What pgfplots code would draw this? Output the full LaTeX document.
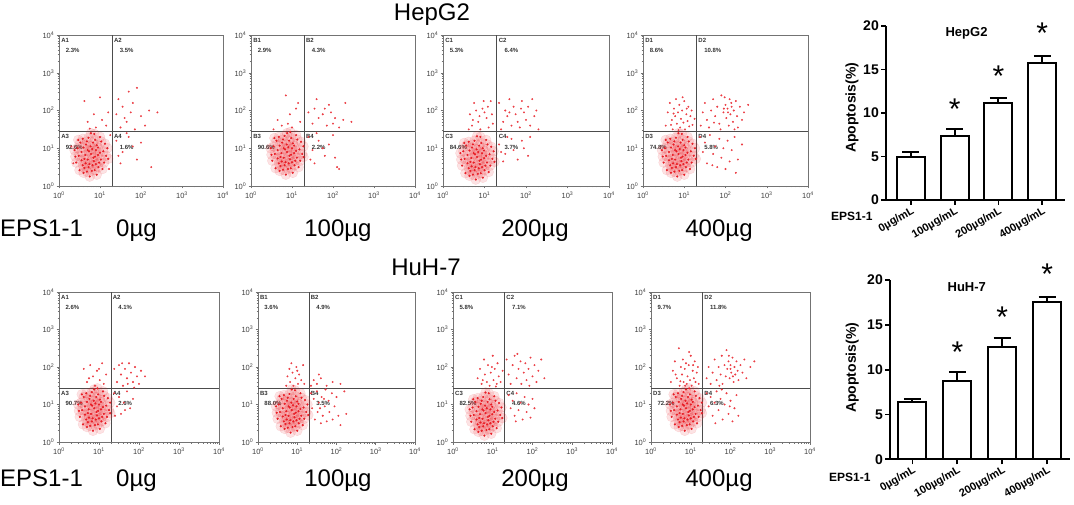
\documentclass[border=0pt]{standalone}
\usepackage{fontspec}
\setmainfont{Liberation Sans}
\usepackage{pgfplots}
\usepackage{pgfplotstable}
\pgfplotsset{compat=1.18}
\definecolor{dotred}{RGB}{232,28,36}

% ---------- flow cytometry data (log10 units: x = Annexin V, y = PI) ----------
\pgfplotstableread[row sep=\\]{x y\\
0.78 0.85\\0.70 0.95\\0.88 0.78\\0.62 0.72\\0.95 1.02\\0.55 0.90\\0.83 1.15\\0.74 0.58\\1.02 0.70\\0.66 1.10\\
0.90 0.95\\0.58 0.55\\1.08 0.92\\0.48 0.80\\0.80 0.40\\0.72 1.28\\0.96 0.50\\0.60 1.02\\1.12 1.12\\0.85 0.66\\
0.52 1.15\\0.68 0.38\\1.00 1.30\\0.42 0.62\\0.92 0.30\\0.77 1.05\\0.64 0.82\\1.15 0.80\\0.86 1.38\\0.50 0.42\\
0.98 0.62\\0.70 0.70\\0.81 0.98\\0.58 1.25\\1.06 0.45\\0.45 1.00\\0.75 0.25\\1.18 1.00\\0.88 1.22\\0.62 0.48\\
0.95 0.82\\0.40 0.78\\1.10 0.62\\0.68 1.18\\0.82 0.55\\0.55 0.68\\1.03 1.18\\0.73 0.92\\0.87 0.42\\0.47 1.22\\
0.92 1.08\\0.65 0.60\\1.20 0.72\\0.78 1.40\\0.60 0.35\\0.84 0.75\\0.38 0.95\\1.00 0.88\\0.72 0.50\\0.90 0.58\\
}\coreA
\pgfplotstableread[row sep=\\]{x y\\
0.88 0.90\\0.80 1.00\\0.98 0.83\\0.72 0.77\\1.05 1.07\\0.65 0.95\\0.93 1.20\\0.84 0.63\\1.12 0.75\\0.76 1.15\\
1.00 1.00\\0.68 0.60\\1.18 0.97\\0.58 0.85\\0.90 0.45\\0.82 1.33\\1.06 0.55\\0.70 1.07\\1.22 1.17\\0.95 0.71\\
0.62 1.20\\0.78 0.43\\1.10 1.35\\0.52 0.67\\1.02 0.35\\0.87 1.10\\0.74 0.87\\1.25 0.85\\0.96 1.43\\0.60 0.47\\
1.08 0.67\\0.80 0.75\\0.91 1.03\\0.68 1.30\\1.16 0.50\\0.55 1.05\\0.85 0.30\\1.28 1.05\\0.98 1.27\\0.72 0.53\\
1.05 0.87\\0.50 0.83\\1.20 0.67\\0.78 1.23\\0.92 0.60\\0.65 0.73\\1.13 1.23\\0.83 0.97\\0.97 0.47\\0.57 1.27\\
1.02 1.13\\0.75 0.65\\1.28 0.77\\0.88 1.40\\0.70 0.40\\0.94 0.80\\0.48 1.00\\1.10 0.93\\0.82 0.55\\1.00 0.63\\
}\coreB
\pgfplotstableread[row sep=\\]{x y\\
0.82 0.77\\0.74 0.87\\0.92 0.70\\0.66 0.64\\0.99 0.94\\0.59 0.82\\0.87 1.07\\0.78 0.50\\1.06 0.62\\0.70 1.02\\
0.94 0.87\\0.62 0.47\\1.12 0.84\\0.52 0.72\\0.84 0.32\\0.76 1.20\\1.00 0.42\\0.64 0.94\\1.16 1.04\\0.89 0.58\\
0.56 1.07\\0.72 0.30\\1.04 1.22\\0.46 0.54\\0.96 0.22\\0.81 0.97\\0.68 0.74\\1.19 0.72\\0.90 1.30\\0.54 0.34\\
1.02 0.54\\0.74 0.62\\0.85 0.90\\0.62 1.17\\1.10 0.37\\0.49 0.92\\0.79 0.17\\1.22 0.92\\0.92 1.14\\0.66 0.40\\
0.99 0.74\\0.44 0.70\\1.14 0.54\\0.72 1.10\\0.86 0.47\\0.59 0.60\\1.07 1.10\\0.77 0.84\\0.91 0.34\\0.51 1.14\\
0.96 1.00\\0.69 0.52\\1.24 0.64\\0.82 1.32\\0.64 0.27\\0.88 0.67\\0.42 0.87\\1.04 0.80\\0.76 0.42\\0.94 0.50\\
}\coreC
\pgfplotstableread[row sep=\\]{x y\\
0.86 0.85\\0.78 0.95\\0.96 0.78\\0.70 0.72\\1.03 1.02\\0.63 0.90\\0.91 1.15\\0.82 0.58\\1.10 0.70\\0.74 1.10\\
0.98 0.95\\0.66 0.55\\1.16 0.92\\0.56 0.80\\0.88 0.40\\0.80 1.28\\1.04 0.50\\0.68 1.02\\1.20 1.12\\0.93 0.66\\
0.60 1.15\\0.76 0.38\\1.08 1.30\\0.50 0.62\\1.00 0.30\\0.85 1.05\\0.72 0.82\\1.23 0.80\\0.94 1.38\\0.58 0.42\\
1.06 0.62\\0.78 0.70\\0.89 0.98\\0.66 1.25\\1.14 0.45\\0.53 1.00\\0.83 0.25\\1.26 1.00\\0.96 1.22\\0.70 0.48\\
1.03 0.82\\0.48 0.78\\1.18 0.62\\0.76 1.18\\0.90 0.55\\0.63 0.68\\1.11 1.18\\0.81 0.92\\0.95 0.42\\0.55 1.22\\
1.00 1.08\\0.73 0.60\\1.28 0.72\\0.86 1.40\\0.68 0.35\\0.92 0.75\\0.46 0.95\\1.08 0.88\\0.80 0.50\\0.98 0.58\\
}\coreD

\pgfplotstableread[row sep=\\]{x y\\
0.62 2.25\\1.00 2.35\\0.85 1.90\\0.70 1.70\\1.05 1.75\\1.15 1.60\\0.90 1.55\\0.75 1.52\\1.20 1.95\\
1.40 1.90\\1.55 2.10\\1.70 2.50\\1.90 2.60\\1.80 2.20\\2.00 1.85\\1.65 1.70\\1.50 1.55\\2.20 2.00\\1.75 1.95\\
2.10 1.60\\1.45 2.30\\1.85 1.50\\2.40 1.95\\1.60 1.80\\
1.40 1.20\\1.55 0.90\\1.70 1.30\\1.90 0.70\\1.50 0.60\\2.25 0.50\\1.80 1.05\\1.45 0.80\\1.65 1.40\\2.00 1.15\\
0.35 0.60\\0.30 1.05\\1.25 1.35\\1.22 0.45\\
}\sTa
\pgfplotstableread[row sep=\\]{x y\\
0.85 2.40\\0.65 1.75\\0.95 1.90\\1.10 2.05\\0.75 1.60\\1.20 1.70\\1.00 1.55\\0.55 1.50\\0.90 1.65\\1.15 2.20\\
1.40 1.95\\1.60 2.30\\1.75 1.90\\1.90 2.15\\2.05 1.80\\2.30 2.20\\2.45 1.70\\1.50 1.65\\1.65 1.80\\1.85 1.60\\
2.15 1.55\\1.95 1.95\\2.25 1.75\\1.55 2.05\\1.80 2.05\\2.00 1.65\\
1.40 1.30\\1.50 0.95\\1.65 1.20\\1.80 0.80\\2.00 1.35\\2.10 0.50\\1.55 0.60\\1.75 1.00\\1.45 0.70\\1.90 1.10\\
2.05 0.75\\1.60 1.40\\2.15 0.45\\
}\sTb
\pgfplotstableread[row sep=\\]{x y\\
0.65 1.90\\0.75 2.20\\0.85 1.70\\0.95 2.05\\1.05 1.80\\1.15 2.25\\0.70 1.60\\0.90 1.50\\1.00 1.95\\1.20 1.65\\
0.80 2.00\\1.10 1.55\\0.72 1.75\\0.98 2.25\\1.18 1.90\\0.62 1.50\\0.88 1.85\\1.08 2.10\\
1.35 2.20\\1.50 2.00\\1.60 2.30\\1.75 1.90\\1.90 2.25\\2.05 2.10\\2.20 1.85\\1.45 1.70\\1.65 1.60\\1.85 1.55\\
2.00 1.75\\2.25 2.00\\1.55 1.85\\1.70 2.10\\1.95 1.95\\2.10 1.60\\1.40 1.50\\1.80 1.70\\2.15 2.30\\1.60 1.95\\
1.88 2.05\\2.30 1.50\\
1.35 1.10\\1.50 0.85\\1.65 1.25\\1.80 0.70\\1.95 1.00\\2.10 1.30\\1.45 0.65\\1.70 0.95\\1.90 1.20\\2.05 0.80\\
1.55 1.30\\1.40 0.90\\
}\sTc
\pgfplotstableread[row sep=\\]{x y\\
0.55 1.60\\0.60 1.95\\0.65 2.20\\0.70 1.75\\0.72 1.50\\0.75 2.05\\0.78 1.85\\0.80 2.30\\0.82 1.65\\0.85 1.95\\
0.88 2.15\\0.90 1.55\\0.92 1.78\\0.95 2.00\\0.98 1.68\\1.00 2.25\\1.02 1.50\\1.05 1.90\\1.08 1.72\\1.10 2.10\\
1.12 1.58\\1.15 1.85\\1.18 2.00\\1.20 1.62\\1.25 1.78\\0.68 1.62\\0.86 1.48\\0.96 2.35\\1.06 2.05\\0.74 1.92\\
1.40 1.60\\1.45 1.95\\1.50 2.20\\1.55 1.75\\1.60 1.55\\1.65 2.00\\1.70 2.30\\1.75 1.85\\1.80 2.10\\1.85 1.65\\
1.90 2.40\\1.95 1.95\\2.00 2.15\\2.02 1.80\\2.05 2.05\\2.08 1.60\\2.10 2.30\\2.12 1.90\\2.15 2.10\\2.18 1.70\\
2.20 2.00\\2.25 2.25\\2.28 1.85\\2.30 1.55\\2.35 2.10\\2.40 1.75\\2.45 1.95\\2.55 2.15\\1.98 2.35\\1.88 1.50\\
2.06 1.95\\1.96 2.05\\2.14 2.20\\1.72 1.68\\2.22 1.50\\
1.38 1.30\\1.45 0.90\\1.50 1.15\\1.55 0.60\\1.62 1.35\\1.70 0.85\\1.75 1.05\\1.80 0.50\\1.85 1.25\\1.90 0.75\\
1.95 1.00\\2.00 0.45\\2.05 1.20\\2.10 0.65\\2.15 0.95\\2.22 1.30\\2.30 0.70\\2.40 1.10\\1.68 0.55\\2.25 0.35\\
}\sTd
\pgfplotstableread[row sep=\\]{x y\\
0.62 1.95\\0.70 1.60\\0.78 2.05\\0.85 1.75\\0.90 1.50\\0.95 1.90\\1.02 1.65\\1.08 2.10\\1.12 1.55\\1.18 1.80\\
0.75 1.70\\1.00 1.95\\
1.38 1.95\\1.45 1.60\\1.50 2.05\\1.55 1.80\\1.60 1.50\\1.65 1.95\\1.70 1.70\\1.75 2.10\\1.80 1.85\\1.85 1.60\\
1.90 2.00\\1.95 1.75\\2.00 1.55\\2.05 1.90\\2.15 1.75\\1.72 1.55\\1.58 2.10\\1.88 1.45\\
1.38 1.30\\1.45 0.95\\1.50 1.20\\1.55 0.75\\1.62 1.05\\1.70 1.35\\1.78 0.90\\1.85 1.15\\1.40 0.70\\1.65 0.85\\
}\sBa
\pgfplotstableread[row sep=\\]{x y\\
0.72 1.50\\0.75 1.75\\0.80 1.95\\0.82 1.60\\0.88 1.85\\0.90 1.50\\0.95 1.70\\0.98 2.00\\1.02 1.55\\1.05 1.80\\
1.10 1.65\\1.15 2.05\\0.85 2.10\\1.00 1.90\\1.18 1.55\\
1.35 1.50\\1.42 1.65\\1.50 1.55\\1.60 1.70\\1.75 1.50\\1.90 1.60\\2.10 1.55\\1.55 1.80\\
1.35 1.30\\1.38 0.90\\1.42 1.15\\1.45 0.60\\1.50 1.35\\1.52 0.80\\1.55 1.05\\1.60 0.50\\1.62 1.20\\1.65 0.70\\
1.70 0.95\\1.72 1.40\\1.75 0.55\\1.80 1.10\\1.82 0.80\\1.88 1.30\\1.90 0.60\\1.95 0.95\\2.00 1.20\\2.05 0.70\\
2.10 0.45\\2.20 1.35\\2.25 0.75\\1.58 0.90\\1.68 1.15\\
}\sBb
\pgfplotstableread[row sep=\\]{x y\\
0.62 1.70\\0.68 1.95\\0.72 1.55\\0.78 2.20\\0.80 1.80\\0.85 1.60\\0.88 2.05\\0.92 1.50\\0.95 1.85\\1.00 2.30\\
1.02 1.65\\1.05 1.95\\1.10 1.55\\1.12 2.10\\1.15 1.75\\1.20 1.60\\1.25 1.90\\0.75 1.65\\0.98 2.00\\1.08 1.48\\
1.35 2.20\\1.40 1.80\\1.45 1.55\\1.50 2.05\\1.55 2.30\\1.60 1.70\\1.65 1.95\\1.70 2.15\\1.72 1.55\\1.78 1.85\\
1.82 2.10\\1.85 1.65\\1.90 1.95\\1.95 2.25\\2.00 1.75\\2.05 2.05\\2.10 1.60\\2.15 1.90\\2.22 2.20\\2.30 1.70\\
1.62 2.35\\1.92 1.50\\
1.40 1.25\\1.45 0.90\\1.50 1.10\\1.55 0.70\\1.60 1.30\\1.65 0.85\\1.70 1.05\\1.75 0.60\\1.80 1.20\\1.85 0.80\\
1.90 1.00\\1.95 0.65\\2.00 1.15\\2.05 0.90\\1.58 0.55\\
}\sBc
\pgfplotstableread[row sep=\\]{x y\\
0.50 1.60\\0.55 1.90\\0.60 2.15\\0.65 1.70\\0.70 2.50\\0.72 1.50\\0.75 2.00\\0.78 1.80\\0.80 2.20\\0.82 1.60\\
0.85 1.95\\0.88 2.10\\0.90 1.55\\0.92 1.75\\0.95 2.05\\0.98 1.65\\1.00 2.30\\1.02 1.50\\1.05 1.90\\1.08 1.70\\
1.10 2.15\\1.12 1.60\\1.15 1.85\\1.18 2.00\\1.20 1.55\\0.62 1.80\\0.86 1.50\\0.96 2.40\\1.06 2.05\\0.74 1.62\\
1.40 1.70\\1.45 2.00\\1.50 1.55\\1.55 1.85\\1.60 2.20\\1.65 1.65\\1.70 2.00\\1.75 1.80\\1.78 2.30\\1.80 1.55\\
1.85 2.05\\1.88 1.75\\1.90 2.45\\1.92 1.95\\1.95 2.15\\1.98 1.70\\2.00 2.05\\2.02 1.85\\2.05 2.25\\2.08 1.60\\
2.10 2.00\\2.12 1.80\\2.15 2.15\\2.18 1.90\\2.20 1.65\\2.25 2.05\\2.30 1.85\\2.35 2.20\\2.40 1.70\\2.50 2.00\\
2.60 2.15\\2.00 1.95\\1.96 2.30\\2.06 1.75\\1.72 1.50\\
1.40 1.30\\1.45 0.95\\1.50 1.20\\1.55 0.70\\1.60 1.05\\1.65 1.35\\1.70 0.85\\1.75 1.15\\1.80 0.60\\1.85 1.00\\
1.90 1.30\\1.95 0.75\\2.00 1.10\\2.05 0.55\\2.10 0.90\\2.15 1.25\\2.20 0.70\\1.62 0.50\\1.98 0.95\\1.78 1.40\\
}\sBd

\pgfplotsset{
  fc/.style={anchor=south west, scale only axis,
    xmin=0, xmax=4, ymin=0, ymax=4,
    axis line style={draw=black!55, line width=0.9pt},
    xtick={0,1,2,3,4}, ytick={0,1,2,3,4},
    xticklabels={10\textsuperscript{0},10\textsuperscript{1},10\textsuperscript{2},10\textsuperscript{3},10\textsuperscript{4}},
    yticklabels={10\textsuperscript{0},10\textsuperscript{1},10\textsuperscript{2},10\textsuperscript{3},10\textsuperscript{4}},
    minor xtick={0.301,0.477,0.602,0.699,0.778,0.845,0.903,0.954,1.301,1.477,1.602,1.699,1.778,1.845,1.903,1.954,2.301,2.477,2.602,2.699,2.778,2.845,2.903,2.954,3.301,3.477,3.602,3.699,3.778,3.845,3.903,3.954},
    minor ytick={0.301,0.477,0.602,0.699,0.778,0.845,0.903,0.954,1.301,1.477,1.602,1.699,1.778,1.845,1.903,1.954,2.301,2.477,2.602,2.699,2.778,2.845,2.903,2.954,3.301,3.477,3.602,3.699,3.778,3.845,3.903,3.954},
    tick pos=left, tick align=outside,
    major tick length=2.5pt, minor tick length=1.5pt,
    tick style={draw=black!55, line width=0.5pt},
    ticklabel style={font=\fontsize{7.5}{8}\selectfont, text=black!75, inner sep=1pt},
    xticklabel style={yshift=-2pt},
    yticklabel style={xshift=-1pt},
  },
  barax/.style={anchor=south west, scale only axis, clip=false,
    ymin=0, ymax=20,
    axis x line*=bottom, axis y line*=left,
    axis line style={line width=1.8pt},
    ytick={0,5,10,15,20}, yticklabels={0,5,10,15,20},
    xtick={0,1,2,3}, xticklabels={0µg/mL,100µg/mL,200µg/mL,400µg/mL},
    tick style={line width=1.8pt, black}, major tick length=5pt, tick align=outside,
    yticklabel style={font=\bfseries\fontsize{14}{16}\selectfont, inner sep=2pt},
    xticklabel style={font=\bfseries\fontsize{11}{12}\selectfont, rotate=30, anchor=north east, inner sep=0.5pt},
    ylabel={Apoptosis(\%)},
  },
}
\tikzset{
  ql/.style={anchor=west, inner sep=0pt, font=\fontsize{6}{7}\selectfont\bfseries, text=black!80},
  ast/.style={inner sep=0pt, font=\fontsize{30}{30}\selectfont},
}
\newcommand{\qlab}[5]{%
  \node[ql] at (axis cs:0.05,3.85) {#11};
  \node[ql] at (axis cs:0.16,3.58) {#2\%};
  \node[ql] at (axis cs:1.34,3.85) {#12};
  \node[ql] at (axis cs:1.48,3.58) {#3\%};
  \node[ql] at (axis cs:0.05,1.30) {#13};
  \node[ql] at (axis cs:0.16,1.03) {#4\%};
  \node[ql] at (axis cs:1.34,1.30) {#14};
  \node[ql] at (axis cs:1.48,1.03) {#5\%};
}
% one flow panel: #1 core table, #2 sparse table
\newcommand{\flowdata}[2]{%
  \addplot[only marks, mark=*, mark size=5pt, color=dotred, opacity=0.12] table {#1};
  \addplot[only marks, mark=*, mark size=0.85pt, color=dotred] table {#1};
  \addplot[only marks, mark=*, mark size=0.75pt, color=dotred!85] table {#2};
  \addplot[black!70, line width=1pt, mark=none] coordinates {(1.30,0) (1.30,4)};
  \addplot[black!70, line width=1pt, mark=none] coordinates {(0,1.44) (4,1.44)};
}

\begin{document}
\begin{tikzpicture}[x=1pt,y=1pt]
\useasboundingbox (0,0) rectangle (1074,504);

% titles
\node[anchor=base, inner sep=0, font=\fontsize{24}{26}\selectfont] at (432,483) {HepG2};
\node[anchor=base, inner sep=0, font=\fontsize{24}{26}\selectfont] at (426,228) {HuH-7};

% dose labels
\foreach \yb in {267,18} {
  \node[anchor=base west, inner sep=0, font=\fontsize{24}{26}\selectfont] at (0,\yb) {EPS1-1};
  \node[anchor=base west, inner sep=0, font=\fontsize{24}{26}\selectfont] at (116,\yb) {0µg};
  \node[anchor=base, inner sep=0, font=\fontsize{24}{26}\selectfont] at (338,\yb) {100µg};
  \node[anchor=base, inner sep=0, font=\fontsize{24}{26}\selectfont] at (535,\yb) {200µg};
  \node[anchor=base, inner sep=0, font=\fontsize{24}{26}\selectfont] at (719,\yb) {400µg};
}

% ---------------- HepG2 row ----------------
\begin{axis}[fc, at={(59pt,318pt)}, width=164pt, height=151pt]
\flowdata{\coreA}{\sTa}
\qlab{A}{2.3}{3.5}{92.6}{1.6}
\end{axis}

\begin{axis}[fc, at={(251pt,318pt)}, width=164pt, height=151pt]
\flowdata{\coreB}{\sTb}
\qlab{B}{2.9}{4.3}{90.6}{2.2}
\end{axis}

\begin{axis}[fc, at={(443pt,318pt)}, width=166pt, height=151pt]
\flowdata{\coreC}{\sTc}
\qlab{C}{5.3}{6.4}{84.6}{3.7}
\end{axis}

\begin{axis}[fc, at={(643pt,318pt)}, width=165pt, height=151pt]
\flowdata{\coreD}{\sTd}
\qlab{D}{8.6}{10.8}{74.8}{5.8}
\end{axis}

% ---------------- HuH-7 row ----------------
\begin{axis}[fc, at={(59pt,62pt)}, width=160pt, height=150pt]
\flowdata{\coreB}{\sBa}
\qlab{A}{2.6}{4.1}{90.7}{2.6}
\end{axis}

\begin{axis}[fc, at={(258pt,62pt)}, width=157pt, height=150pt]
\flowdata{\coreD}{\sBb}
\qlab{B}{3.6}{4.9}{88.0}{3.5}
\end{axis}

\begin{axis}[fc, at={(453pt,62pt)}, width=159pt, height=150pt]
\flowdata{\coreC}{\sBc}
\qlab{C}{5.8}{7.1}{82.5}{4.6}
\end{axis}

\begin{axis}[fc, at={(651pt,62pt)}, width=159pt, height=150pt]
\flowdata{\coreB}{\sBd}
\qlab{D}{9.7}{11.8}{72.2}{6.3}
\end{axis}

% ---------------- bar charts ----------------
\begin{axis}[barax, at={(886pt,304pt)}, width=179pt, height=174pt,
  xmin=-0.57, xmax=3.52,
  ylabel style={font=\bfseries\fontsize{14}{16}\selectfont, at={(axis description cs:-0.19,0.53)}, anchor=center}]
\addplot[ybar, bar width=28pt, fill=white, draw=black, line width=2pt,
  error bars/.cd, y dir=plus, y explicit,
  error bar style={line width=2pt, black},
  error mark options={rotate=90, mark size=8.5pt, line width=2pt, black}]
  coordinates {(0,4.9) +- (0,0.6) (1,7.3) +- (0,0.9) (2,11.1) +- (0,0.6) (3,15.8) +- (0,0.8)};
\node[font=\bfseries\fontsize{13}{15}\selectfont] at (axis cs:1.27,19.2) {HepG2};
\node[ast] at (axis cs:1,10.46) {*};
\node[ast] at (axis cs:2,14.25) {*};
\node[ast] at (axis cs:3,19.2) {*};
\end{axis}
\node[anchor=base west, inner sep=0, font=\bfseries\fontsize{12}{14}\selectfont] at (831,283) {EPS1-1};

\begin{axis}[barax, at={(890pt,44.7pt)}, width=180pt, height=179.3pt,
  xmin=-0.5, xmax=3.51,
  ylabel style={font=\bfseries\fontsize{14}{16}\selectfont, at={(axis description cs:-0.21,0.51)}, anchor=center}]
\addplot[ybar, bar width=28pt, fill=white, draw=black, line width=2pt,
  error bars/.cd, y dir=plus, y explicit,
  error bar style={line width=2pt, black},
  error mark options={rotate=90, mark size=8.5pt, line width=2pt, black}]
  coordinates {(0,6.35) +- (0,0.4) (1,8.75) +- (0,1.0) (2,12.5) +- (0,1.05) (3,17.5) +- (0,0.65)};
\node[font=\bfseries\fontsize{13}{15}\selectfont] at (axis cs:1.21,19.2) {HuH-7};
\node[ast] at (axis cs:1,11.9) {*};
\node[ast] at (axis cs:2,15.8) {*};
\node[ast] at (axis cs:3,20.6) {*};
\end{axis}
\node[anchor=base west, inner sep=0, font=\bfseries\fontsize{12}{14}\selectfont] at (829,23) {EPS1-1};

\end{tikzpicture}
\end{document}
